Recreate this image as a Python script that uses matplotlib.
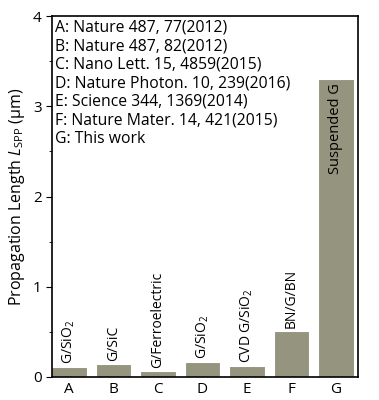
import matplotlib
matplotlib.use('Agg')
from matplotlib import pyplot as plt
from matplotlib.ticker import MultipleLocator

# Data
labels = ['A', 'B', 'C', 'D', 'E', 'F', 'G']
lengths = [0.11, 0.144, 0.066, 0.166, 0.125, 0.513, 3.30]
bar_notes = ['G/SiO$_2$', 'G/SiC', 'G/Ferroelectric', 'G/SiO$_2$',
             'CVD G/SiO$_2$', 'BN/G/BN', 'Suspended G']
refs = ['A: Nature 487, 77(2012)',
        'B: Nature 487, 82(2012)',
        'C: Nano Lett. 15, 4859(2015)',
        'D: Nature Photon. 10, 239(2016)',
        'E: Science 344, 1369(2014)',
        'F: Nature Mater. 14, 421(2015)',
        'G: This work']

plt.rcParams['font.family'] = ['Open Sans', 'DejaVu Sans']
plt.rcParams['mathtext.fontset'] = 'custom'
plt.rcParams['mathtext.rm'] = 'Open Sans'
plt.rcParams['mathtext.it'] = 'Open Sans:italic'

fig = plt.figure(figsize=(3.79, 4.0), dpi=100)
ax = fig.add_axes([0.137, 0.0575, 0.808, 0.9025])

x = range(len(labels))
ax.bar(x, lengths, width=0.8, color='#94947f', edgecolor='white', linewidth=0.8)

# notes above bars (last one inside the bar)
for i, (h, note) in enumerate(zip(lengths, bar_notes)):
    if i == len(labels) - 1:
        ax.text(i, h - 0.04, note, rotation=90, ha='center', va='top', fontsize=10.5)
    else:
        ax.text(i, h + 0.03, note, rotation=90, ha='center', va='bottom', fontsize=10)

# reference list
for k, r in enumerate(refs):
    ax.text(0.01, 0.99 - k * 0.0515, r, transform=ax.transAxes,
            ha='left', va='top', fontsize=11.3)

ax.set_xlim(-0.38, 6.5)
ax.set_ylim(0, 4)
ax.set_xticks(list(x))
ax.set_xticklabels(labels)
ax.yaxis.set_major_locator(MultipleLocator(1))
ax.yaxis.set_minor_locator(MultipleLocator(0.5))
ax.tick_params(axis='x', length=0, labelsize=11)
ax.tick_params(axis='y', which='major', length=4, labelsize=11)
ax.tick_params(axis='y', which='minor', length=2.5)
for s in ax.spines.values():
    s.set_linewidth(1.2)
ax.set_ylabel('Propagation Length $\\mathit{L}_{\\mathrm{SPP}}$ (μm)', fontsize=11.5)

fig.savefig('out.png', dpi=100)
